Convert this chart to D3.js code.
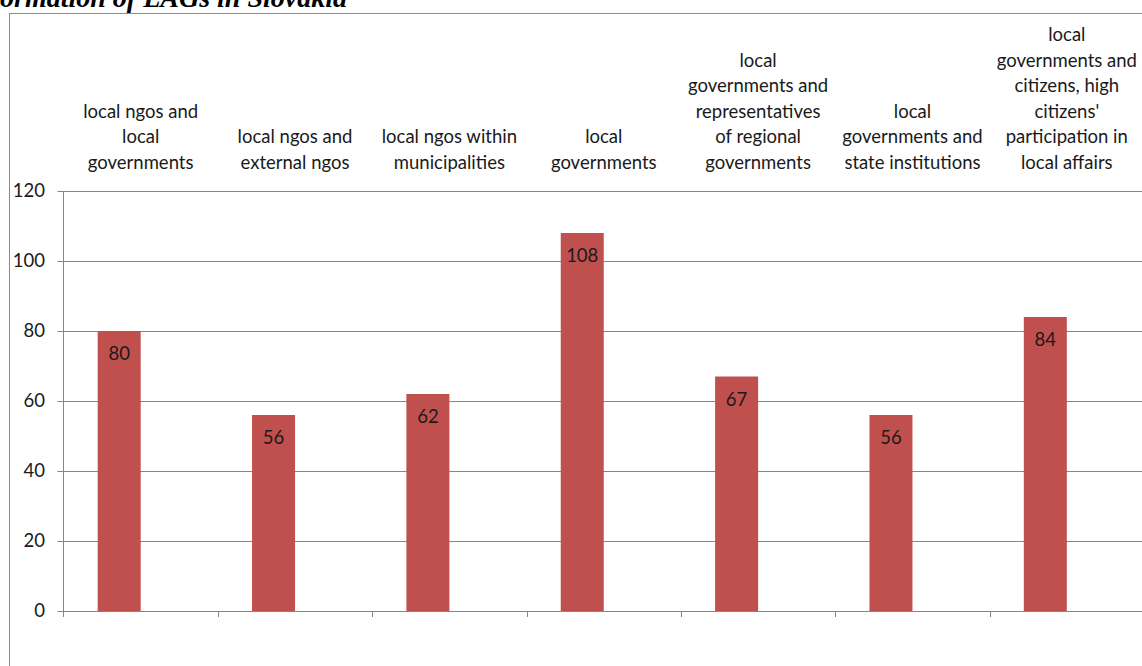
<!DOCTYPE html>
<html>
<head>
<meta charset="utf-8">
<script src="https://cdn.jsdelivr.net/npm/d3@7"></script>
<style>
  body { margin: 0; background: #fff; overflow: hidden; }
  text { font-family: Lato, "Open Sans", sans-serif; fill: #1a1a1a; }
</style>
</head>
<body>
<div id="chart"></div>
<script>
var categories = [
    "local ngos and local governments",
    "local ngos and external ngos",
    "local ngos within municipalities",
    "local governments",
    "local governments and representatives of regional governments",
    "local governments and state institutions",
    "local governments and citizens, high citizens' participation in local affairs"
];
var labelLines = [
    ["local ngos and", "local", "governments"],
    ["local ngos and", "external ngos"],
    ["local ngos within", "municipalities"],
    ["local", "governments"],
    ["local", "governments and", "representatives", "of regional", "governments"],
    ["local", "governments and", "state institutions"],
    ["local", "governments and", "citizens, high", "citizens'", "participation in", "local affairs"]
];
var values = [80, 56, 62, 108, 67, 56, 84];
var yTicks = [0, 20, 40, 60, 80, 100, 120];
var titleText = "formation of LAGs in Slovakia";

var width = 1142, height = 666,
    plot = {left: 63.5, right: 1144, top: 191, bottom: 611},
    barWidth = 43,
    barColor = "#c0504d",
    gridColor = "#868686",
    fontSize = "18.5px";

var svg = d3.select("#chart").append("svg")
    .attr("width", width)
    .attr("height", height);

// title (cut off at the top-left, as in the source)
svg.append("text")
    .attr("x", 347)
    .attr("y", 7)
    .attr("text-anchor", "end")
    .style("font-family", "'Liberation Serif', 'Times New Roman', serif")
    .style("font-weight", "bold")
    .style("font-style", "italic")
    .style("font-size", "28px")
    .style("fill", "#000")
    .text(titleText);

// chart frame
svg.append("rect")
    .attr("x", 9.5)
    .attr("y", 13.5)
    .attr("width", 1200)
    .attr("height", 700)
    .attr("fill", "none")
    .attr("stroke", "#8c8c8c")
    .attr("stroke-width", 1);

var x = d3.scaleBand()
    .domain(categories)
    .range([plot.left, plot.right])
    .padding(0);

var y = d3.scaleLinear()
    .domain([0, 120])
    .range([plot.bottom, plot.top]);

// gridlines
svg.append("g")
    .selectAll("line")
    .data(yTicks)
    .enter().append("line")
    .attr("x1", plot.left - 6)
    .attr("x2", plot.right)
    .attr("y1", d => Math.round(y(d)) + 0.5)
    .attr("y2", d => Math.round(y(d)) + 0.5)
    .attr("stroke", gridColor)
    .attr("stroke-width", 1);

// y axis line + labels
svg.append("line")
    .attr("x1", plot.left).attr("x2", plot.left)
    .attr("y1", plot.top).attr("y2", plot.bottom + 6)
    .attr("stroke", gridColor);

svg.append("g")
    .selectAll("text")
    .data(yTicks)
    .enter().append("text")
    .attr("x", 45)
    .attr("y", d => y(d))
    .attr("dy", "0.35em")
    .attr("text-anchor", "end")
    .style("font-size", fontSize)
    .text(d => d);

// x ticks at category boundaries
var bounds = categories.map(c => x(c)).slice(1);
svg.append("g")
    .selectAll("line")
    .data(bounds)
    .enter().append("line")
    .attr("x1", d => Math.round(d) + 0.5)
    .attr("x2", d => Math.round(d) + 0.5)
    .attr("y1", plot.bottom)
    .attr("y2", plot.bottom + 6)
    .attr("stroke", gridColor);

// bars (sit left of the category centre)
svg.append("g")
    .selectAll("rect")
    .data(values)
    .enter().append("rect")
    .attr("x", (d, i) => x(categories[i]) + x.bandwidth() / 2 - barWidth)
    .attr("width", barWidth)
    .attr("y", d => y(d))
    .attr("height", d => y(0) - y(d))
    .attr("fill", barColor);

// data labels
svg.append("g")
    .selectAll("text")
    .data(values)
    .enter().append("text")
    .attr("x", (d, i) => x(categories[i]) + x.bandwidth() / 2 - barWidth / 2)
    .attr("y", d => y(d) + 23)
    .attr("dy", "0.35em")
    .attr("text-anchor", "middle")
    .style("font-size", fontSize)
    .text(d => d);

// category labels above the plot, bottom-aligned
var lineH = 25.6;
var lab = svg.append("g")
    .selectAll("text")
    .data(labelLines)
    .enter().append("text")
    .attr("text-anchor", "middle")
    .style("font-size", fontSize);

lab.selectAll("tspan")
    .data((d, i) => d.map((t, j) => ({t: t, i: i, j: j, n: d.length})))
    .enter().append("tspan")
    .attr("x", d => x(categories[d.i]) + x.bandwidth() / 2)
    .attr("y", d => 169 - (d.n - 1 - d.j) * lineH)
    .text(d => d.t);
</script>
</body>
</html>
